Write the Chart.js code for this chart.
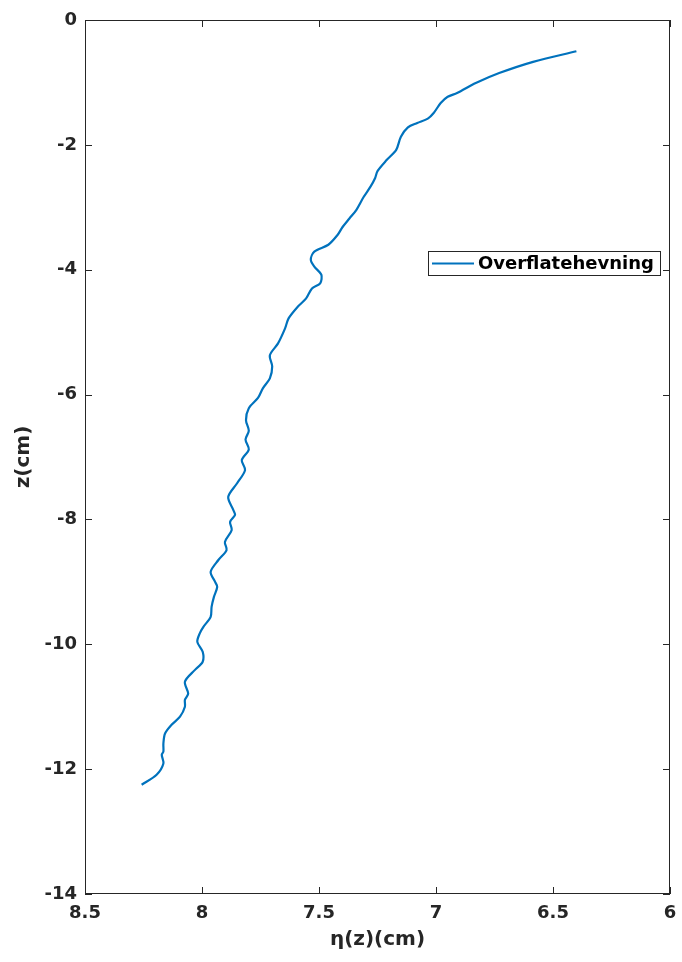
<!DOCTYPE html>
<html>
<head>
<meta charset="utf-8">
<title>Overflatehevning</title>
<script src="https://cdn.jsdelivr.net/npm/chart.js@4/dist/chart.umd.min.js"></script>
<style>
  html, body { margin: 0; padding: 0; background: #ffffff; }
  #wrap { position: relative; width: 682px; height: 962px; }
</style>
</head>
<body>
<div id="wrap"><canvas id="c" width="682" height="962"></canvas></div>
<script>
// Surface elevation eta(z) against depth z, both in cm
const seriesLabel = 'Overflatehevning';
const eta = [
  6.40, 6.585, 6.73, 6.83, 6.91, 6.95, 6.98, 7.01, 7.035, 7.08,
  7.12, 7.15, 7.17, 7.21, 7.25, 7.26, 7.28, 7.31, 7.34, 7.37,
  7.40, 7.42, 7.46, 7.52, 7.535, 7.52, 7.49, 7.495, 7.53, 7.555,
  7.59, 7.63, 7.645, 7.675, 7.71, 7.70, 7.71, 7.74, 7.76, 7.80,
  7.812, 7.80, 7.814, 7.80, 7.83, 7.816, 7.85, 7.888, 7.866, 7.859,
  7.88, 7.873, 7.902, 7.895, 7.93, 7.963, 7.944, 7.935, 7.949, 7.959,
  7.963, 7.994, 8.009, 8.02, 7.997, 7.997, 8.03, 8.073, 8.059, 8.073,
  8.073, 8.094, 8.13, 8.158, 8.165, 8.165, 8.172, 8.165, 8.194, 8.258
];
const depth = [
  -0.50, -0.67, -0.85, -1.01, -1.17, -1.23, -1.33, -1.49, -1.58, -1.65,
  -1.72, -1.87, -2.08, -2.24, -2.42, -2.53, -2.67, -2.84, -3.04, -3.18,
  -3.32, -3.44, -3.60, -3.71, -3.84, -3.95, -4.08, -4.22, -4.30, -4.46,
  -4.59, -4.78, -4.94, -5.18, -5.37, -5.55, -5.74, -5.90, -6.05, -6.22,
  -6.41, -6.58, -6.72, -6.88, -7.05, -7.21, -7.42, -7.64, -7.85, -7.93,
  -8.04, -8.17, -8.36, -8.49, -8.65, -8.84, -9.00, -9.08, -9.24, -9.40,
  -9.56, -9.72, -9.82, -9.96, -10.12, -10.28, -10.41, -10.60, -10.79, -10.89,
  -11.00, -11.16, -11.29, -11.43, -11.59, -11.72, -11.77, -11.91, -12.09, -12.25
];
const xTickValues = [8.5, 8, 7.5, 7, 6.5, 6];
const xTickLabels = ['8.5', '8', '7.5', '7', '6.5', '6'];
const yTickValues = [0, -2, -4, -6, -8, -10, -12, -14];
const yTickLabels = ['0', '-2', '-4', '-6', '-8', '-10', '-12', '-14'];
const xTitle = 'η(z)(cm)';
const yTitle = 'z(cm)';

const points = eta.map((v, i) => ({ x: v, y: depth[i] }));

const AXIS = '#262626';
const LINE = '#0072BD';
const FONT = '"DejaVu Sans", sans-serif';

// Box around the axes with inward tick marks on all four sides, plus the legend
const boxPlugin = {
  id: 'boxAndTicks',
  afterDraw(chart) {
    const { ctx, chartArea: a, scales } = chart;
    const len = 7;
    ctx.save();
    ctx.strokeStyle = AXIS;
    ctx.lineWidth = 1;
    ctx.strokeRect(a.left + 0.5, a.top + 0.5, a.right - a.left - 1, a.bottom - a.top - 1);
    ctx.beginPath();
    xTickValues.forEach(v => {
      const px = Math.round(scales.x.getPixelForValue(v)) + 0.5;
      ctx.moveTo(px, a.bottom); ctx.lineTo(px, a.bottom - len);
      ctx.moveTo(px, a.top); ctx.lineTo(px, a.top + len);
    });
    yTickValues.forEach(v => {
      const py = Math.round(scales.y.getPixelForValue(v)) + 0.5;
      ctx.moveTo(a.left, py); ctx.lineTo(a.left + len, py);
      ctx.moveTo(a.right, py); ctx.lineTo(a.right - len, py);
    });
    ctx.stroke();

    // legend
    const lx = 428, ly = 251, lw = 232, lh = 24;
    ctx.fillStyle = '#ffffff';
    ctx.fillRect(lx, ly, lw, lh);
    ctx.strokeStyle = AXIS;
    ctx.strokeRect(lx + 0.5, ly + 0.5, lw, lh);
    ctx.strokeStyle = LINE;
    ctx.lineWidth = 2;
    ctx.beginPath();
    ctx.moveTo(lx + 4, ly + lh / 2 + 0.5);
    ctx.lineTo(lx + 46, ly + lh / 2 + 0.5);
    ctx.stroke();
    ctx.fillStyle = '#000000';
    ctx.font = 'bold 18px ' + FONT;
    ctx.textBaseline = 'middle';
    ctx.textAlign = 'left';
    ctx.fillText(chart.data.datasets[0].label, lx + 50, ly + lh / 2 + 1);
    ctx.restore();
  }
};

new Chart(document.getElementById('c'), {
  type: 'line',
  data: {
    datasets: [{
      label: seriesLabel,
      data: points,
      borderColor: LINE,
      borderWidth: 2.2,
      pointRadius: 0,
      tension: 0.3,
      fill: false
    }]
  },
  options: {
    responsive: false,
    animation: false,
    layout: { padding: { left: 0, right: 12, top: 20, bottom: 0 } },
    plugins: { legend: { display: false }, tooltip: { enabled: false } },
    scales: {
      x: {
        type: 'linear',
        reverse: true,
        min: 6, max: 8.5,
        afterBuildTicks(s) { s.ticks = xTickValues.map(v => ({ value: v })); },
        afterFit(s) { s.height = 68; s.paddingLeft = 0; s.paddingRight = 0; },
        grid: { display: false, drawTicks: false },
        border: { display: false },
        ticks: {
          padding: 9,
          color: AXIS,
          font: { family: FONT, size: 18, weight: 'bold' },
          callback: v => xTickLabels[xTickValues.indexOf(v)]
        },
        title: {
          display: true, text: xTitle, color: AXIS,
          font: { family: FONT, size: 20, weight: 'bold' },
          padding: { top: 0, bottom: 10 }
        }
      },
      y: {
        type: 'linear',
        min: -14, max: 0,
        afterBuildTicks(s) { s.ticks = yTickValues.map(v => ({ value: v })); },
        afterFit(s) { s.width = 85; s.paddingTop = 0; s.paddingBottom = 0; },
        grid: { display: false, drawTicks: false },
        border: { display: false },
        ticks: {
          padding: 8,
          color: AXIS,
          font: { family: FONT, size: 18, weight: 'bold' },
          callback: v => yTickLabels[yTickValues.indexOf(v)]
        },
        title: {
          display: true, text: yTitle, color: AXIS,
          font: { family: FONT, size: 20, weight: 'bold' },
          padding: { top: 12, bottom: 0 }
        }
      }
    }
  },
  plugins: [boxPlugin]
});
</script>
</body>
</html>
